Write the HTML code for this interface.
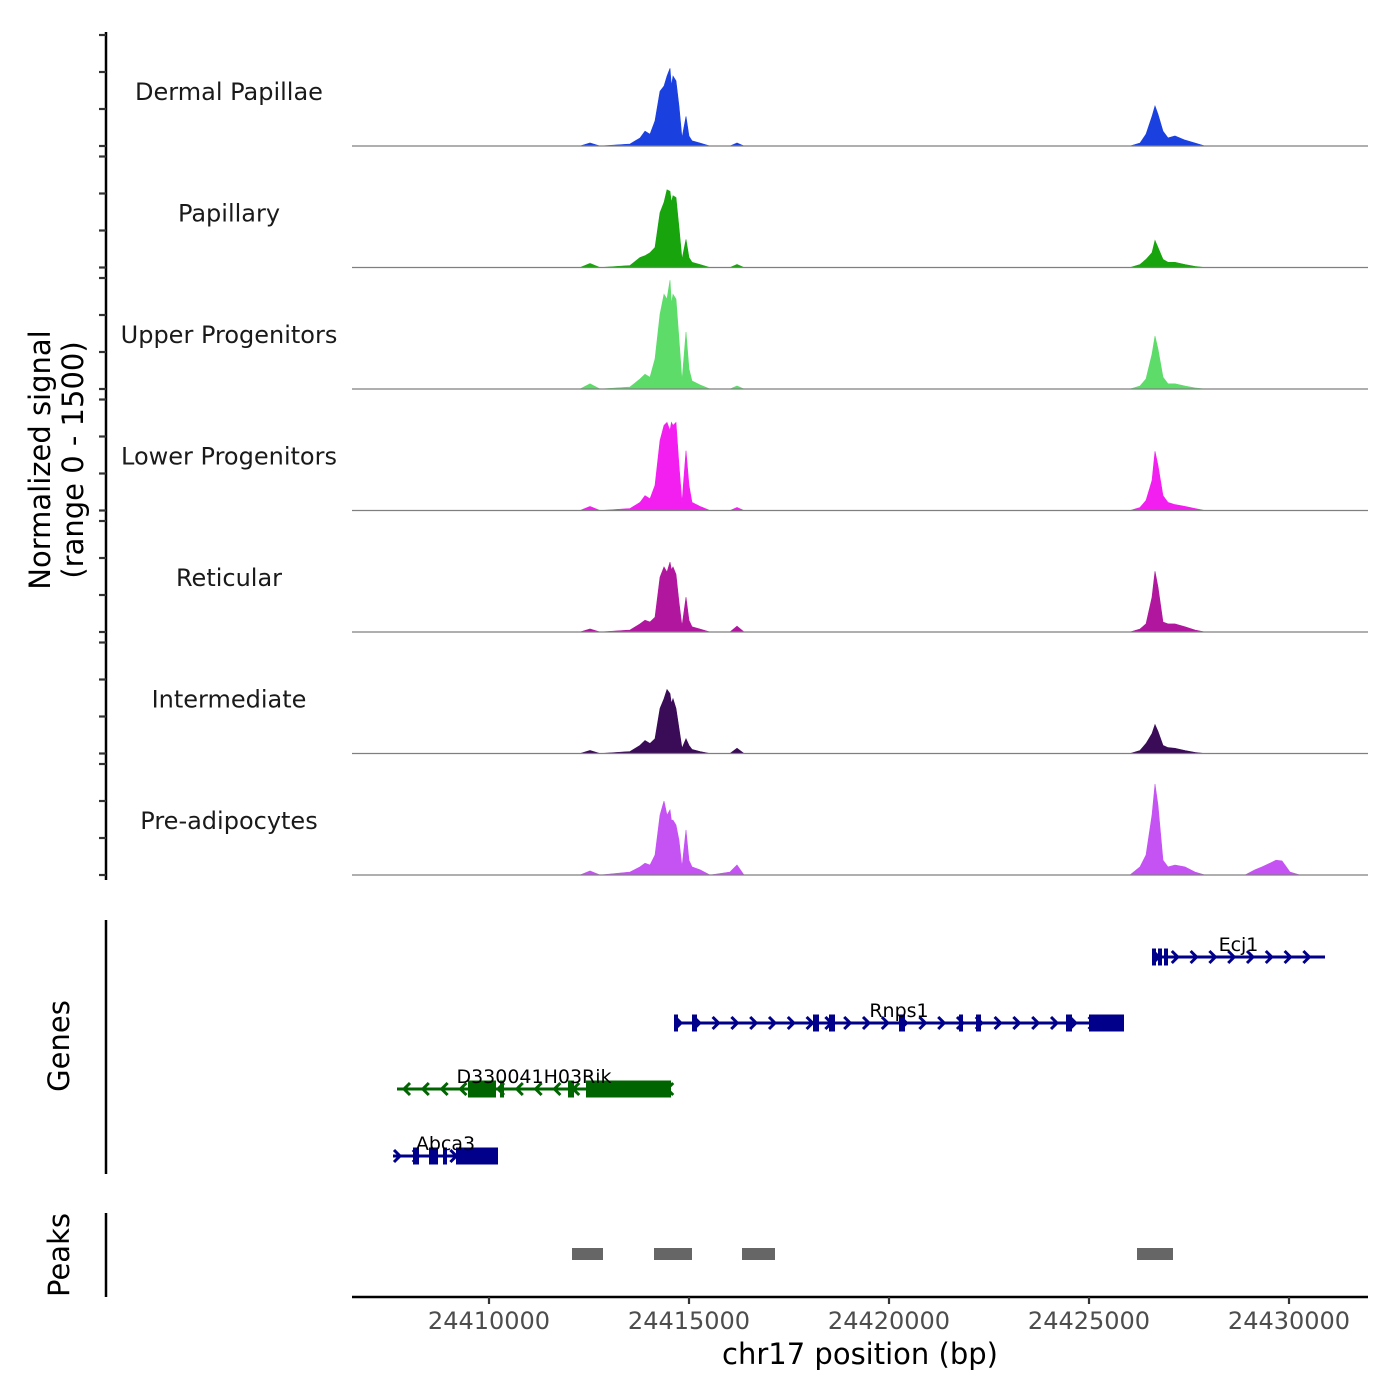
<!DOCTYPE html>
<html><head><meta charset="utf-8"><style>
body{margin:0;background:#fff;}
svg{display:block;font-family:"DejaVu Sans","Liberation Sans",sans-serif;}
</style></head><body>
<svg id="chart" width="1400" height="1400" viewBox="0 0 1400 1400">
<g id="tracks"></g>
<g id="leftaxis"></g>
<g id="genes"></g>
<g id="peaks"></g>
<g id="xaxis"></g>
<text x="54" y="460" transform="rotate(-90 54 460)" text-anchor="middle" font-size="29" fill="#000"><tspan x="54" dy="-4">Normalized signal</tspan><tspan x="54" dy="33">(range 0 - 1500)</tspan></text>
<text x="69" y="1046" transform="rotate(-90 69 1046)" text-anchor="middle" font-size="29">Genes</text>
<text x="69" y="1255" transform="rotate(-90 69 1255)" text-anchor="middle" font-size="29">Peaks</text>
<text x="860" y="1364" text-anchor="middle" font-size="29">chr17 position (bp)</text>
</svg>
<script>
const NS="http://www.w3.org/2000/svg";
const trackNames=["Dermal Papillae","Papillary","Upper Progenitors","Lower Progenitors","Reticular","Intermediate","Pre-adipocytes"];
const trackColors=["#1a40e0","#17a40c","#5ddc6a","#f21ff0","#b0179e","#3a0b57","#c552f2"];
const positions=[24412275,24412525,24412775,24413525,24413775,24413900,24414025,24414150,24414275,24414375,24414450,24414525,24414560,24414600,24414675,24414750,24414825,24414925,24415000,24415075,24415275,24415525,24416025,24416200,24416375,24426025,24426275,24426425,24426575,24426650,24426725,24426850,24426975,24427150,24427400,24427650,24427900,24428900,24429150,24429325,24429525,24429675,24429825,24430025,24430275];
const dermalPapillae=[0,40,0,27,108,200,160,340,740,810,945,1050,810,945,880,540,110,400,135,70,40,0,0,40,0,0,40,160,400,540,430,200,110,135,80,40,0,0,0,0,0,0,0,0,0];
const papillary=[0,55,0,27,135,160,200,270,740,880,1050,1030,880,970,945,540,110,380,135,70,40,0,0,40,0,0,40,110,200,365,270,110,70,70,40,15,0,0,0,0,0,0,0,0,0];
const upperProgenitors=[0,70,0,27,135,200,160,405,1010,1280,1215,1470,1150,1280,1215,675,110,770,270,110,55,0,0,40,0,0,40,135,470,715,540,160,70,70,40,15,0,0,0,0,0,0,0,0,0];
const lowerProgenitors=[0,55,0,27,110,200,160,340,945,1150,1190,1080,1190,1150,1190,610,110,810,340,110,55,0,0,40,0,0,40,135,405,800,610,200,110,80,55,27,0,0,0,0,0,0,0,0,0];
const reticular=[0,40,0,27,110,160,135,200,740,880,810,945,840,880,780,405,80,470,160,70,40,0,0,80,0,0,40,110,470,820,610,135,110,110,70,27,0,0,0,0,0,0,0,0,0];
const intermediate=[0,40,0,27,110,175,135,200,610,740,865,810,675,740,610,340,70,200,110,55,27,0,0,70,0,0,40,135,270,390,300,110,80,70,40,15,0,0,0,0,0,0,0,0,0];
const preAdipocytes=[0,55,0,40,110,160,135,270,810,1000,810,880,740,740,675,470,110,610,200,110,70,0,40,135,0,0,110,270,810,1230,945,200,110,135,110,40,0,0,70,110,160,200,190,40,0];
const trackValues=[dermalPapillae,papillary,upperProgenitors,lowerProgenitors,reticular,intermediate,preAdipocytes];
const yTicks=[0,500,1000,1500];
const xTicks=[24410000,24415000,24420000,24425000,24430000];
const peakStarts=[24412075,24414125,24416325,24426200];
const peakEnds=[24412850,24415075,24417150,24427100];
const geneNames=["Ecj1","Rnps1","D330041H03Rik","Abca3"];
const geneStrand=[1,1,-1,1];
const geneStarts=[24426575,24414625,24407700,24407600];
const geneEnds=[24430900,24425875,24414550,24410225];
const geneExonStarts=[[24426575,24426725,24426875],[24414625,24415075,24418100,24418500,24420250,24421750,24422175,24424425,24425000],[24409475,24410275,24411975,24412425],[24408100,24408500,24408850,24409175]];
const geneExonEnds=[[24426650,24426800,24426950],[24414700,24415200,24418250,24418650,24420400,24421850,24422300,24424575,24425875],[24410175,24410350,24412125,24414550],[24408250,24408725,24408950,24410225]];
const geneColors=["#00008b","#00008b","#006400","#00008b"];
const geneRow=[0,1,2,3];

const X0=24406575, XPX=352, BPPX=25;
function x(bp){return XPX+(bp-X0)/BPPX;}
const trackTop0=35, trackStep=121.5, trackH=111;
function y(t,v){return trackTop0+t*trackStep+trackH-v/1500*trackH;}
function el(tag,attrs,parent){const e=document.createElementNS(NS,tag);for(const k in attrs)e.setAttribute(k,attrs[k]);parent.appendChild(e);return e;}

const tg=document.getElementById('tracks');
trackNames.forEach((name,t)=>{
  const g=el('g',{},tg);
  
  
  const vals=trackValues[t];
  let d='M'+x(positions[0])+','+y(t,0);
  positions.forEach((p,i)=>{d+=' L'+x(p).toFixed(1)+','+y(t,vals[i]).toFixed(1);});
  d+=' L'+x(positions[positions.length-1])+','+y(t,0)+' Z';
  const a=el('path',{d:d,fill:trackColors[t],stroke:trackColors[t],'stroke-width':0.6},g);
  
  
  const b=el('line',{x1:352,x2:1368,y1:y(t,0),y2:y(t,0),stroke:'#7f7f7f','stroke-width':1.2},g);
  
  
  const lb=el('text',{x:229,y:trackTop0+t*trackStep+65,'text-anchor':'middle','font-size':24,fill:'#1a1a1a'},g);
  lb.textContent=name;
  
  
});

const la=document.getElementById('leftaxis');
el('line',{x1:106,x2:106,y1:32,y2:880,stroke:'#000','stroke-width':2.5},la);
trackNames.forEach((n,t)=>{yTicks.forEach(v=>{
  const tk=el('line',{x1:99,x2:106,y1:y(t,v),y2:y(t,v),stroke:'#333','stroke-width':2.2},la);
  
  
});});

const gg=document.getElementById('genes');
el('line',{x1:106,x2:106,y1:920,y2:1174,stroke:'#000','stroke-width':2.5},gg);
const rowY=[957,1023,1089,1156];
geneNames.forEach((n,i)=>{
  const g=el('g',{},gg);
  
  
  const c=geneColors[i], yy=rowY[geneRow[i]];
  const x1=x(geneStarts[i]), x2=x(geneEnds[i]);
  el('line',{x1:x1,x2:x2,y1:yy,y2:yy,stroke:c,'stroke-width':3},g);
  for(let ax=x1+7;ax<x2-2;ax+=18.8){
    const s=geneStrand[i];
    el('polyline',{points:(ax-6*s)+','+(yy-6)+' '+ax+','+yy+' '+(ax-6*s)+','+(yy+6),fill:'none',stroke:c,'stroke-width':3},g);
  }
  geneExonStarts[i].forEach((s,j)=>{
    const ex=el('rect',{x:x(s),y:yy-8.5,width:Math.max(4,x(geneExonEnds[i][j])-x(s)),height:17,fill:c},g);
    
    
  });
  const lb=el('text',{x:(x1+x2)/2,y:yy-6,'text-anchor':'middle','font-size':19,fill:'#000'},g);
  lb.textContent=n;
  
  
});

const pg=document.getElementById('peaks');
el('line',{x1:106,x2:106,y1:1213,y2:1297,stroke:'#000','stroke-width':2.5},pg);
peakStarts.forEach((s,i)=>{
  const r=el('rect',{x:x(s),y:1248,width:x(peakEnds[i])-x(s),height:12,fill:'#666'},pg);
  
  
});

const xa=document.getElementById('xaxis');
el('line',{x1:352,x2:1368,y1:1297,y2:1297,stroke:'#000','stroke-width':2.5},xa);
xTicks.forEach(v=>{
  const tk=el('line',{x1:x(v),x2:x(v),y1:1297,y2:1304,stroke:'#333','stroke-width':2.2},xa);
  
  
  const t=el('text',{x:x(v),y:1329,'text-anchor':'middle','font-size':24,fill:'#4d4d4d'},xa);
  t.textContent=v;
  
  
});
</script>
</body></html>
